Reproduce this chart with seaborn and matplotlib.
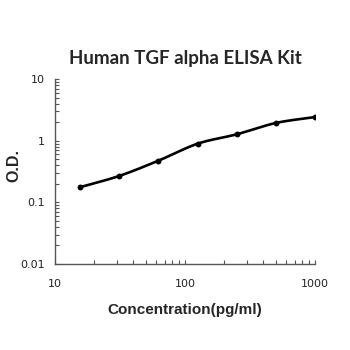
import numpy as np
import pandas as pd
import matplotlib
matplotlib.use("Agg")
import matplotlib.pyplot as plt
import seaborn as sns
from matplotlib.ticker import LogLocator, FixedLocator, NullFormatter

# Standard curve readings
concentration = [15.6, 31.25, 62.5, 125, 250, 500, 1000]
od = [0.176, 0.268, 0.474, 0.894, 1.27, 1.94, 2.42]
x_ticks = [10, 100, 1000]
x_tick_labels = ["10", "100", "1000"]
y_ticks = [0.01, 0.1, 1, 10]
y_tick_labels = ["0.01", "0.1", "1", "10"]

df = pd.DataFrame({"conc": concentration, "od": od})


def smooth_log_curve(x, y, steps=30):
    """Catmull-Rom smoothing through the points in log-log space."""
    lx, ly = np.log10(x), np.log10(y)
    px = np.concatenate([[2 * lx[0] - lx[1]], lx, [2 * lx[-1] - lx[-2]]])
    py = np.concatenate([[2 * ly[0] - ly[1]], ly, [2 * ly[-1] - ly[-2]]])
    ox, oy = [], []
    t = np.linspace(0, 1, steps, endpoint=False)
    for i in range(1, len(px) - 2):
        for arr, out in ((px, ox), (py, oy)):
            p0, p1, p2, p3 = arr[i - 1], arr[i], arr[i + 1], arr[i + 2]
            out.extend(0.5 * ((2 * p1) + (-p0 + p2) * t
                              + (2 * p0 - 5 * p1 + 4 * p2 - p3) * t ** 2
                              + (-p0 + 3 * p1 - 3 * p2 + p3) * t ** 3))
    ox.append(lx[-1]); oy.append(ly[-1])
    return 10 ** np.array(ox), 10 ** np.array(oy)


sns.set_style("white")
plt.rcParams["font.family"] = ["DejaVu Sans"]

fig = plt.figure(figsize=(3.5, 3.5), dpi=100)
ax = fig.add_axes([0.157, 0.246, 0.743, 0.528])

cx, cy = smooth_log_curve(np.array(concentration), np.array(od))
curve = pd.DataFrame({"conc": cx, "od": cy})
sns.lineplot(data=curve, x="conc", y="od", ax=ax, color="black", lw=1.9,
             sort=False, estimator=None)
sns.scatterplot(data=df, x="conc", y="od", ax=ax, color="black", s=18,
                edgecolor="black", linewidth=0, zorder=3)

ax.set_xscale("log")
ax.set_yscale("log")
ax.set_xlim(10, 1000)
ax.set_ylim(0.01, 10)

ax.xaxis.set_major_locator(FixedLocator(x_ticks))
ax.set_xticklabels(x_tick_labels)
ax.yaxis.set_major_locator(FixedLocator(y_ticks))
ax.set_yticklabels(y_tick_labels)
ax.xaxis.set_minor_locator(LogLocator(base=10, subs=np.arange(2, 10)))
ax.yaxis.set_minor_locator(LogLocator(base=10, subs=np.arange(2, 10)))
ax.xaxis.set_minor_formatter(NullFormatter())
ax.yaxis.set_minor_formatter(NullFormatter())

ax.tick_params(which="both", bottom=True, left=True, top=False, right=False,
               direction="in", width=0.8, length=3, color="#555555",
               labelsize=8, labelcolor="#222222")
ax.tick_params(axis="x", which="major", pad=11)
ax.tick_params(axis="y", which="major", pad=7)

for side in ("top", "right"):
    ax.spines[side].set_visible(False)
for side in ("left", "bottom"):
    ax.spines[side].set_color("#555555")
    ax.spines[side].set_linewidth(1.0)

ax.set_xlabel("Concentration(pg/ml)", fontsize=11, fontweight="bold",
              family="Liberation Sans", labelpad=10)
ax.set_ylabel("O.D.", fontsize=11.5, fontweight="bold",
              family="Liberation Sans")
ax.yaxis.set_label_coords(-0.13, 0.53)
ax.set_title("Human TGF alpha ELISA Kit", fontsize=13.5, fontweight="bold",
             family="Lato", pad=11)

fig.savefig("out.png", dpi=100, facecolor="white")
